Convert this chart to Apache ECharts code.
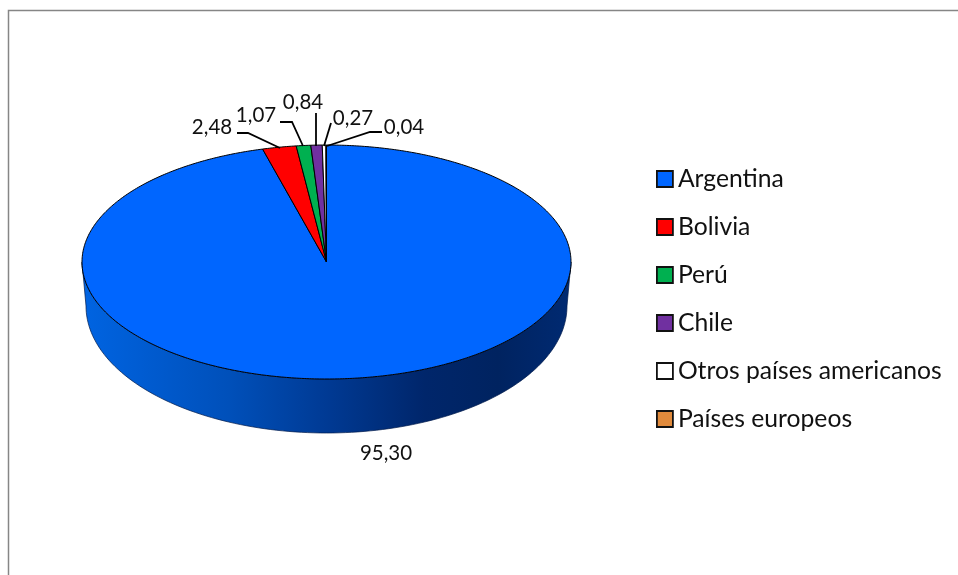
<!DOCTYPE html>
<html><head><meta charset="utf-8">
<style>html,body{margin:0;padding:0;background:#fff}#c{width:958px;height:575px}</style>
<script src="https://cdn.jsdelivr.net/npm/echarts@6/dist/echarts.min.js"></script>
</head><body><div id="c"></div>
<script>
const categories = ['Argentina','Bolivia','Perú','Chile','Otros países americanos','Países europeos'];
const values = [95.30,2.48,1.07,0.84,0.27,0.04];
const colors = ['#0066FF','#FF0000','#00B050','#7030A0','#FFFFFF','#E08A3C'];

// Layout only: label centre, then leader line points
const labelLayout = [
  {text:[386,453], line:[]},
  {text:[212,127], line:[[237,133],[248,133],[280,148]]},
  {text:[256,115], line:[[280,122],[292,122],[303,146]]},
  {text:[303,102], line:[[316,113],[316,146]]},
  {text:[353,118], line:[[331,123],[324,146]]},
  {text:[404,127], line:[[382,132],[370,132],[327,146]]}
];
const top3d = {cx:326.5, cy:262, rx:244.5, ry:117};
const base3d = {cx:326.5, cy:306, rx:240.5, ry:127};
const K = 0.89; // foreshortening of the slice angles

const total = values.reduce((a,b)=>a+b,0);
function project(e, deg){
  const t = deg*Math.PI/180;
  const p = Math.atan2(K*Math.sin(t), Math.cos(t));
  return [e.cx + e.rx*Math.sin(p), e.cy - e.ry*Math.cos(p)];
}
function arc(e, a0, a1, n){
  const pts=[];
  for(let i=0;i<=n;i++) pts.push(project(e, a0+(a1-a0)*i/n));
  return pts;
}
function rawArc(e, a0, a1, n){
  const pts=[];
  for(let i=0;i<=n;i++){const t=(a0+(a1-a0)*i/n)*Math.PI/180;pts.push([e.cx+e.rx*Math.sin(t),e.cy-e.ry*Math.cos(t)]);}
  return pts;
}
function makeRender(idx){
  return function(params, api){
    const v = api.value(0);
    let before=0; for(let i=0;i<idx;i++) before+=values[i];
    const a0=before/total*360, a1=(before+v)/total*360;
    const children=[];
    if(idx===0){
      const front = rawArc(top3d,90,270,120);
      const back = rawArc(base3d,270,90,120);
      children.push({type:'polygon',shape:{points:front.concat(back)},
        style:{fill:{type:'linear',x:0,y:0,x2:1,y2:0,colorStops:[
          {offset:0,color:'#0064E2'},{offset:0.3,color:'#0050BA'},{offset:0.5,color:'#003A94'},
          {offset:0.7,color:'#00266B'},{offset:0.85,color:'#002360'},{offset:1,color:'#002A72'}]},
          stroke:'#001a4a',lineWidth:0.7}});
    }
    const pts=[[top3d.cx,top3d.cy]].concat(arc(top3d,a0,a1,Math.max(4,Math.ceil((a1-a0)*1.5))));
    children.push({type:'polygon',shape:{points:pts},style:{fill:colors[idx],stroke:'#000',lineWidth:1,lineJoin:'round'}});
    const lay=labelLayout[idx];
    if(lay.line.length) children.push({type:'polyline',z2:5,shape:{points:lay.line},style:{fill:null,stroke:'#000',lineWidth:1.8}});
    children.push({type:'text',z2:6,style:{x:lay.text[0],y:lay.text[1],text:v.toFixed(2).replace('.',','),
      align:'center',verticalAlign:'middle',fill:'#111',font:'20.5px Lato'}});
    return {type:'group',children};
  };
}
const chart = echarts.init(document.getElementById('c'),null,{renderer:'canvas'});
chart.setOption({
  animation:false,
  backgroundColor:'#fff',
  legend:{
    orient:'vertical',left:656,top:166,padding:0,itemWidth:16,itemHeight:16,itemGap:22,
    data:categories,icon:'rect',selectedMode:false,
    itemStyle:{borderColor:'#111',borderWidth:1.8},
    textStyle:{fontFamily:'Lato',fontSize:24.7,color:'#111',padding:0,lineHeight:26}
  },
  graphic:[{type:'polyline',silent:true,shape:{points:[[8.5,575],[8.5,10.5],[958,10.5]]},style:{fill:null,stroke:'#868686',lineWidth:1.5}}],
  series:categories.map((name,i)=>({
    type:'custom',name,coordinateSystem:'none',
    itemStyle:{color:colors[i]},
    renderItem:makeRender(i),
    data:[[values[i]]]
  }))
});
</script></body></html>
